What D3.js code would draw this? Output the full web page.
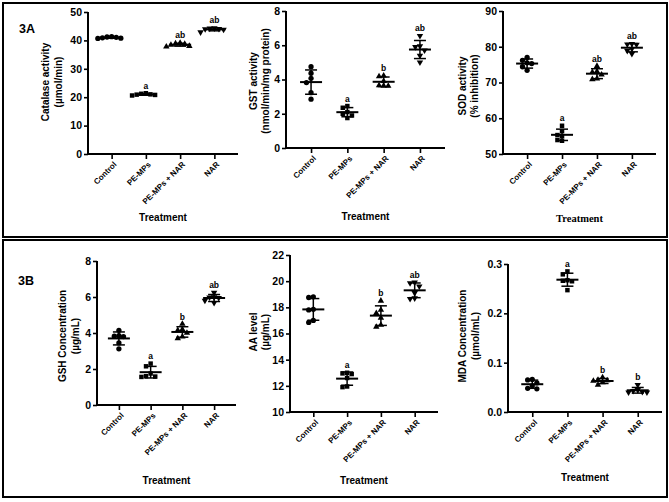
<!DOCTYPE html>
<html><head><meta charset="utf-8">
<script src="https://cdn.jsdelivr.net/npm/d3@7"></script>
<style>body{margin:0;background:#fff}svg{display:block}</style>
</head><body><svg id="c" width="669" height="502"></svg>
<script>
// ---------- data ----------
const categories = ["Control", "PE-MPs", "PE-MPs + NAR", "NAR"];

const catalase = [
  [41.3, 41.2, 41.1, 40.9, 40.8, 40.7],
  [21.4, 21.2, 21.0, 20.9, 20.8, 20.6],
  [39.1, 38.9, 38.7, 38.4, 38.0, 37.8],
  [44.3, 44.2, 44.1, 44.0, 43.8, 42.9]
];
const gst = [
  [4.75, 4.37, 4.07, 3.82, 3.23, 2.85],
  [2.45, 2.35, 2.10, 2.00, 1.90, 1.75],
  [4.22, 4.18, 3.90, 3.65, 3.62, 3.63],
  [6.55, 5.95, 5.90, 5.70, 5.40, 5.00]
];
const sod = [
  [77.0, 76.2, 75.5, 75.3, 74.4, 73.4],
  [57.9, 56.4, 55.3, 55.0, 53.9, 53.7],
  [74.6, 73.1, 72.9, 72.2, 71.1, 70.9],
  [80.8, 80.7, 80.6, 79.4, 78.9, 78.0]
];
const gsh = [
  [4.15, 3.85, 3.82, 3.80, 3.45, 3.12],
  [2.30, 2.15, 1.75, 1.60, 1.58, 1.56],
  [4.50, 4.20, 4.15, 4.00, 3.80, 3.70],
  [6.25, 6.00, 5.98, 5.95, 5.80, 5.68]
];
const aa = [
  [18.80, 18.75, 17.85, 17.80, 17.00, 16.85],
  [13.00, 12.95, 12.90, 12.60, 11.95, 11.90],
  [18.50, 17.80, 17.55, 17.20, 16.65, 16.50],
  [19.90, 19.85, 19.60, 19.10, 18.70, 18.65]
];
const mda = [
  [0.066, 0.065, 0.059, 0.053, 0.048, 0.047],
  [0.285, 0.279, 0.267, 0.266, 0.265, 0.247],
  [0.070, 0.065, 0.064, 0.063, 0.060, 0.055],
  [0.055, 0.045, 0.043, 0.041, 0.040, 0.040]
];

const catalaseLetters = ["", "a", "ab", "ab"];
const gstLetters = ["", "a", "b", "ab"];
const sodLetters = ["", "a", "ab", "ab"];
const gshLetters = ["", "a", "b", "ab"];
const aaLetters = ["", "a", "b", "ab"];
const mdaLetters = ["", "a", "b", "b"];

const catalaseTicks = [0, 10, 20, 30, 40, 50];
const gstTicks = [0, 2, 4, 6, 8];
const sodTicks = [50, 60, 70, 80, 90];
const gshTicks = [0, 2, 4, 6, 8];
const aaTicks = [10, 12, 14, 16, 18, 20, 22];
const mdaTicks = [0, 0.1, 0.2, 0.3];

// ---------- layout ----------
const svg = d3.select("#c");
const SANS = "'Liberation Sans', Arial, sans-serif";
const SERIF = "'Liberation Serif', 'Times New Roman', serif";

svg.append("rect").attr("x", 3).attr("y", 3).attr("width", 664).attr("height", 234)
  .attr("fill", "none").attr("stroke", "#000").attr("stroke-width", 2);
svg.append("rect").attr("x", 3).attr("y", 240).attr("width", 664).attr("height", 257)
  .attr("fill", "none").attr("stroke", "#000").attr("stroke-width", 2);

svg.append("text").attr("x", 19).attr("y", 33).text("3A")
  .attr("font-family", SANS).attr("font-weight", "bold").attr("font-size", 12.5);
svg.append("text").attr("x", 18).attr("y", 285).text("3B")
  .attr("font-family", SANS).attr("font-weight", "bold").attr("font-size", 12.5);

const panels = [
  {data: catalase, letters: catalaseLetters, ticks: catalaseTicks, fmt: d3.format("d"),
   x0: 88, x1: 238, yTop: 12, yBot: 154, title: ["Catalase activity", "(\u00b5mol/min)"], tx: [45, 58], ty: 82,
   treatY: 221, treatFont: SANS},
  {data: gst, letters: gstLetters, ticks: gstTicks, fmt: d3.format("d"),
   x0: 286, x1: 445, yTop: 11, yBot: 148, title: ["GST activity", "(nmol/min/mg protein)"], tx: [253, 265], ty: 81,
   treatY: 220, treatFont: SANS},
  {data: sod, letters: sodLetters, ticks: sodTicks, fmt: d3.format("d"),
   x0: 503, x1: 656, yTop: 11, yBot: 154, title: ["SOD activity", "(% inhibition)"], tx: [462, 474], ty: 86,
   treatY: 222, treatFont: SERIF},
  {data: gsh, letters: gshLetters, ticks: gshTicks, fmt: d3.format("d"),
   x0: 97, x1: 236, yTop: 261, yBot: 405, title: ["GSH Concentration", "(\u00b5g/mL)"], tx: [62, 75], ty: 336,
   treatY: 484, treatFont: SANS},
  {data: aa, letters: aaLetters, ticks: aaTicks, fmt: d3.format("d"),
   x0: 290, x1: 438, yTop: 255, yBot: 412, title: ["AA level", "(\u00b5g/mL)"], tx: [253, 265], ty: 332,
   treatY: 484, treatFont: SANS},
  {data: mda, letters: mdaLetters, ticks: mdaTicks, fmt: d3.format(".1f"),
   x0: 508, x1: 662, yTop: 264, yBot: 412, title: ["MDA Concentration", "(\u00b5mol/mL)"], tx: [462, 475], ty: 336,
   treatY: 481, treatFont: SANS}
];

const symbolTypes = [d3.symbolCircle, d3.symbolSquare, d3.symbolTriangle, d3.symbolTriangle];
const symbolRot = [0, 0, 0, 180];
const symbolSize = [22, 20, 18, 18];

function swarm(vals, y, d) {
  const sorted = vals.slice().sort((a, b) => b - a);
  const placed = [];
  sorted.forEach(v => {
    const py = y(v);
    for (let k = 0; k < 20; k++) {
      const m = k === 0 ? 0 : (k % 2 === 1 ? -Math.ceil(k / 2) : Math.ceil(k / 2));
      const ox = m * d;
      const ok = placed.every(p => (p.ox - ox) ** 2 + (p.py - py) ** 2 >= d * d * 0.95);
      if (ok) { placed.push({v, ox, py}); break; }
    }
  });
  return placed;
}

panels.forEach(p => {
  const g = svg.append("g");
  const y = d3.scaleLinear().domain([p.ticks[0], p.ticks[p.ticks.length - 1]]).range([p.yBot, p.yTop]);
  const x = d3.scalePoint().domain(categories).range([p.x0, p.x1]).padding(0.69);

  // y axis
  const ya = g.append("g").attr("transform", `translate(${p.x0},0)`)
    .call(d3.axisLeft(y).tickValues(p.ticks).tickFormat(p.fmt).tickSize(4).tickPadding(2));
  ya.select(".domain").attr("stroke-width", 2).attr("d", `M0,${p.yTop}V${p.yBot + 1}`);
  ya.selectAll(".tick line").attr("stroke-width", 1.6);
  ya.selectAll("text").attr("font-family", SANS).attr("font-weight", "bold").attr("font-size", 10.5).attr("fill", "#000");

  // x axis
  const xa = g.append("g").attr("transform", `translate(0,${p.yBot})`)
    .call(d3.axisBottom(x).tickSize(5).tickFormat(""));
  xa.select(".domain").attr("stroke-width", 2).attr("d", `M${p.x0 - 1},0H${p.x1}`);
  xa.selectAll(".tick line").attr("stroke-width", 1.6);
  xa.selectAll(".tick").append("text")
    .attr("transform", "translate(3,9) rotate(-45)")
    .attr("text-anchor", "end").attr("dy", "0.35em")
    .attr("font-family", SANS).attr("font-weight", "bold").attr("font-size", 8).attr("fill", "#000")
    .text(d => d);

  // axis titles
  p.title.forEach((t, i) => {
    g.append("text").attr("transform", `translate(${p.tx[i]},${p.ty}) rotate(-90)`)
      .attr("text-anchor", "middle").attr("dominant-baseline", "central")
      .attr("font-family", SANS).attr("font-weight", "bold").attr("font-size", 10).text(t);
  });
  g.append("text").attr("x", (p.x0 + p.x1) / 2).attr("y", p.treatY)
    .attr("text-anchor", "middle").attr("font-family", p.treatFont).attr("font-weight", "bold")
    .attr("font-size", p.treatFont === SERIF ? 10.5 : 10).text("Treatment");

  // groups
  p.data.forEach((vals, i) => {
    const cx = x(categories[i]);
    const mean = d3.mean(vals), sd = d3.deviation(vals);
    const pts = swarm(vals, y, 4.6);
    const sym = d3.symbol().type(symbolTypes[i]).size(symbolSize[i]);
    g.selectAll(null).data(pts).join("path")
      .attr("d", sym)
      .attr("transform", d => `translate(${cx + d.ox},${d.py}) rotate(${symbolRot[i]})`)
      .attr("fill", "#000");
    // error bars
    g.append("line").attr("x1", cx).attr("x2", cx).attr("y1", y(mean + sd)).attr("y2", y(mean - sd))
      .attr("stroke", "#000").attr("stroke-width", 1.5);
    [mean + sd, mean - sd].forEach(v => {
      g.append("line").attr("x1", cx - 6).attr("x2", cx + 6).attr("y1", y(v)).attr("y2", y(v))
        .attr("stroke", "#000").attr("stroke-width", 1.5);
    });
    g.append("line").attr("x1", cx - 11).attr("x2", cx + 11).attr("y1", y(mean)).attr("y2", y(mean))
      .attr("stroke", "#000").attr("stroke-width", 2);
    // significance letter
    if (p.letters[i]) {
      const top = Math.min(y(d3.max(vals)), y(mean + sd));
      g.append("text").attr("x", cx).attr("y", top - 4.5)
        .attr("text-anchor", "middle").attr("font-family", SANS).attr("font-weight", "bold")
        .attr("font-size", 8.5).text(p.letters[i]);
    }
  });
});
</script>
</body></html>
